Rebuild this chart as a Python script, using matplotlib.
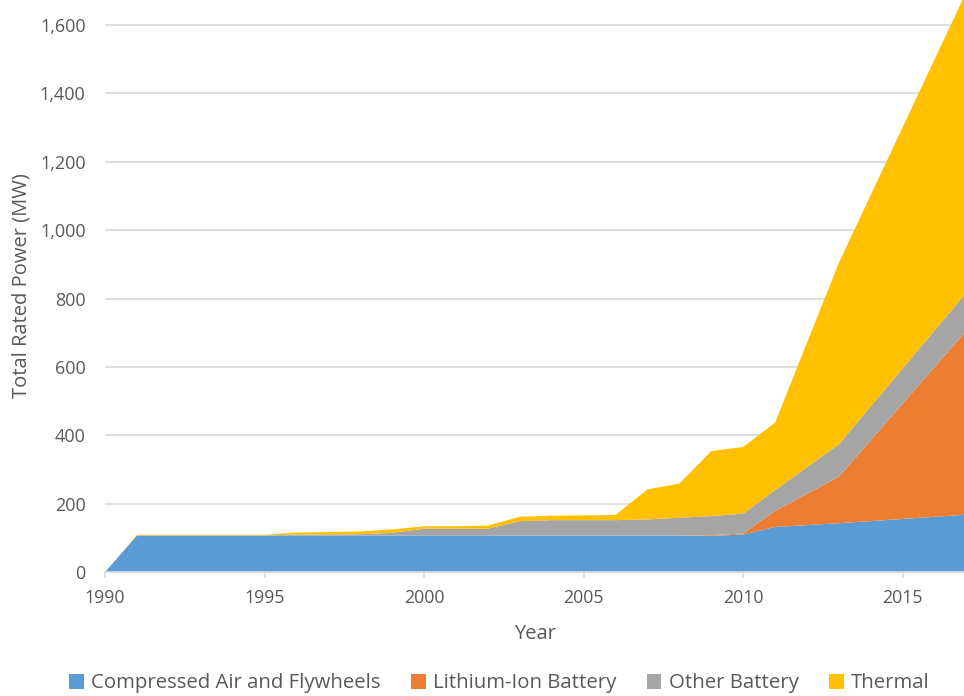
import matplotlib
matplotlib.use('Agg')
import matplotlib.pyplot as plt
from matplotlib.patches import Patch

plt.rcParams['font.family'] = ['Open Sans', 'DejaVu Sans']

# Years that carry a data point (the chart draws straight segments between them)
years = [1990, 1991, 1992, 1993, 1994, 1995, 1996, 1997, 1998, 1999, 2000,
         2001, 2002, 2003, 2004, 2005, 2006, 2007, 2008, 2009, 2010, 2011,
         2013, 2017]

# MW per technology
compressed_air = [0, 107, 107, 107, 107, 107, 107, 107, 107, 107, 107,
                  107, 107, 107, 107, 107, 107, 107, 107, 106, 110, 132,
                  143, 168]
lithium_ion = [0, 0, 0, 0, 0, 0, 0, 0, 0, 0, 0,
               0, 0, 0, 0, 0, 0, 0, 0, 2, 3, 47,
               136, 539]
other_battery = [0, 0, 0, 0, 0, 0, 3, 3, 4, 8, 20,
                 20, 20, 42, 45, 45, 45, 47, 52, 56, 58, 61,
                 95, 111]
thermal = [0, 2, 2, 2, 2, 2, 6, 7, 8, 10, 7,
           7, 9, 13, 13, 14, 15, 88, 100, 190, 195, 197,
           531, 880]

labels = ['Compressed Air and Flywheels', 'Lithium-Ion Battery', 'Other Battery', 'Thermal']
colors = ['#5B9BD5', '#ED7D31', '#A5A5A5', '#FFC000']
text_color = '#595959'

fig = plt.figure(figsize=(9.64, 6.96), dpi=100)
ax = fig.add_axes([0.109, 0.178, 0.891, 0.822])

ax.stackplot(years, compressed_air, lithium_ion, other_battery, thermal,
             colors=colors, linewidth=0, zorder=2)

ax.set_xlim(1990, 2016.92)
ax.set_ylim(0, 1673)
ax.set_xticks([1990, 1995, 2000, 2005, 2010, 2015])
ax.set_yticks(range(0, 1601, 200))
ax.set_yticklabels([f'{v:,}' for v in range(0, 1601, 200)])

ax.grid(axis='y', color='#D9D9D9', linewidth=1.2, zorder=0)
ax.set_axisbelow(True)
for side in ['top', 'right', 'left']:
    ax.spines[side].set_visible(False)
ax.spines['bottom'].set_color('#D9D9D9')
ax.spines['bottom'].set_linewidth(1.2)
ax.spines['bottom'].set_zorder(3)

ax.tick_params(axis='y', length=0, pad=14, labelsize=13, labelcolor=text_color)
ax.tick_params(axis='x', length=4.5, width=1.2, color='#D9D9D9', pad=8,
               labelsize=12.8, labelcolor=text_color)

ax.set_xlabel('Year', fontsize=14.5, color=text_color, labelpad=12)
ax.set_ylabel('Total Rated Power (MW)', fontsize=14.5, color=text_color, labelpad=6)

handles = [Patch(facecolor=c, edgecolor='none') for c in colors]
fig.legend(handles, labels, loc='center', bbox_to_anchor=(0.518, 0.018),
           ncol=4, frameon=False, fontsize=14.7, labelcolor=text_color,
           handlelength=0.72, handleheight=0.72, handletextpad=0.35, columnspacing=1.5)

fig.savefig('out.png', dpi=100)
